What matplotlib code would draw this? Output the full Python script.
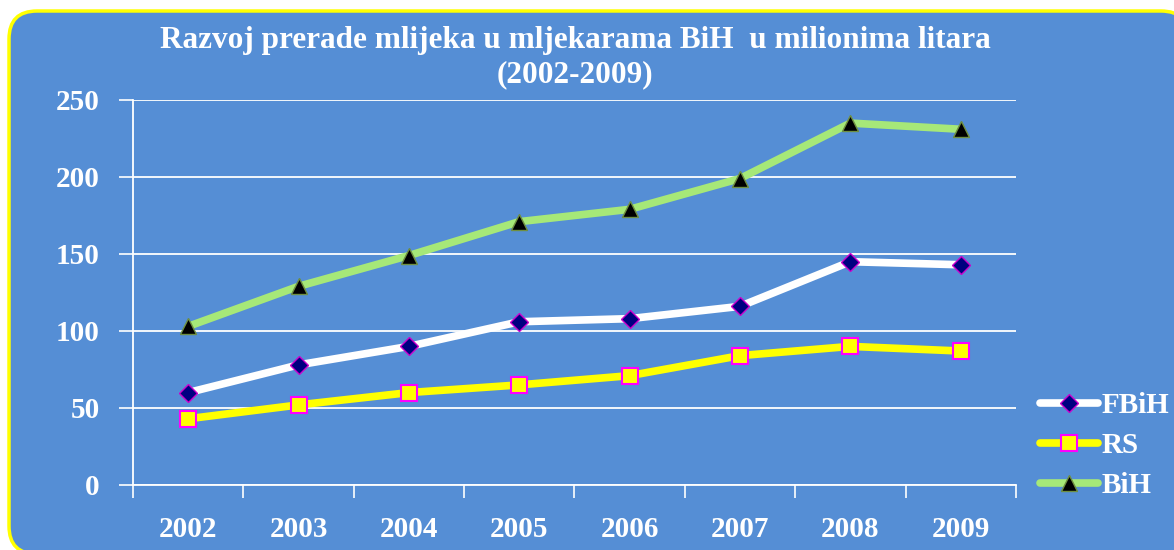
import matplotlib
matplotlib.use('Agg')
import matplotlib.pyplot as plt
from matplotlib.patches import FancyBboxPatch
from matplotlib.transforms import IdentityTransform
from matplotlib.ticker import FixedLocator, NullFormatter

years = ['2002', '2003', '2004', '2005', '2006', '2007', '2008', '2009']
fbih = [60, 78, 90, 106, 108, 116, 145, 143]
rs = [43, 52, 60, 65, 71, 84, 90, 87]
bih = [103, 129, 149, 171, 179, 199, 235, 231]
yticks = [0, 50, 100, 150, 200, 250]

bg = '#558ed5'
plt.rcParams['font.family'] = ['Liberation Serif', 'DejaVu Serif']
plt.rcParams['font.weight'] = 'bold'

fig = plt.figure(figsize=(11.74, 5.5), dpi=100)
fig.patch.set_facecolor('white')

# rounded yellow-bordered panel (pixel coords)
panel = FancyBboxPatch((9, -4), 1180, 543, boxstyle='round,pad=0,rounding_size=28',
                       transform=IdentityTransform(), facecolor=bg, edgecolor='#ffff00',
                       linewidth=2.5, zorder=-10)
fig.patches.append(panel)

ax = fig.add_axes([0.1133, 0.1182, 0.752, 0.7])
ax.set_facecolor('none')
ax.set_zorder(5)

x = list(range(len(years)))
ax.plot(x, bih, color='#a6e878', lw=5.5, marker='^', ms=11, mfc='black', mec='#6f8f40',
        mew=1, label='BiH', solid_capstyle='round', zorder=3)
ax.plot(x, fbih, color='white', lw=5.5, marker='D', ms=9, mfc='#000080', mec='#cc00cc',
        mew=1, label='FBiH', solid_capstyle='round', zorder=4)
ax.plot(x, rs, color='#ffff00', lw=5.5, marker='s', ms=12, mfc='#ffff00', mec='#ff00ff',
        mew=1.5, label='RS', solid_capstyle='round', zorder=5)

ax.set_xlim(-0.5, len(years) - 0.5)
ax.set_ylim(0, 250)
ax.set_yticks(yticks)
ax.set_xticks(x)
ax.set_xticklabels(years)
ax.xaxis.set_minor_locator(FixedLocator([i - 0.5 for i in range(len(years) + 1)]))
ax.xaxis.set_minor_formatter(NullFormatter())
ax.tick_params(axis='x', which='major', length=0, pad=22, labelsize=21, labelcolor='white')
ax.tick_params(axis='x', which='minor', length=9, color='white', width=1.2)
ax.tick_params(axis='y', length=10, color='white', width=1.2, pad=14, labelsize=21,
               labelcolor='white')
ax.grid(axis='y', color='white', lw=1.3)
for s in ['top', 'right']:
    ax.spines[s].set_visible(False)
for s in ['left', 'bottom']:
    ax.spines[s].set_color('white')
    ax.spines[s].set_linewidth(1.3)

fig.text(0.49, 0.895, 'Razvoj prerade mlijeka u mljekarama BiH  u milionima litara\n(2002-2009)',
         ha='center', va='center', color='white', fontsize=22.5, fontweight='bold',
         linespacing=1.25)

h, l = ax.get_legend_handles_labels()
order = [1, 2, 0]
leg = fig.legend([h[i] for i in order], [l[i] for i in order], loc='center left',
                 bbox_to_anchor=(0.886, 0.19), frameon=False, fontsize=21,
                 labelcolor='white', handlelength=2.0, handletextpad=0.1, labelspacing=0.45,
                 borderpad=0, borderaxespad=0)

fig.savefig('out.png', dpi=100, facecolor='white')
